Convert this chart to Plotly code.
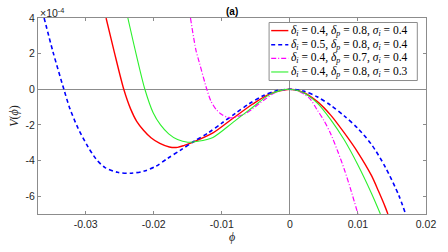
import plotly.graph_objects as go

# Values (V in units of 1e-4)
red_phi = [-0.0270, -0.0258, -0.0244, -0.0234, -0.0225, -0.0215, -0.0204, -0.0191, -0.0177, -0.0165,
           -0.0155, -0.0143, -0.0113, -0.0084, -0.0055, -0.0030, 0.0,
           0.002, 0.004, 0.006, 0.008, 0.010, 0.012, 0.013, 0.014, 0.0144]
red_V = [4.0, 2.1, 0.0, -1.1, -1.8, -2.3, -2.72, -3.04, -3.24, -3.26,
         -3.15, -2.98, -2.45, -1.64, -0.84, -0.27, 0.0,
         -0.17, -0.68, -1.45, -2.45, -3.55, -4.85, -5.7, -6.6, -7.0]

blue_phi = [-0.0361, -0.0348, -0.0332, -0.0323, -0.0311, -0.0297, -0.0285, -0.0272, -0.0253,
            -0.0233, -0.02137, -0.01967, -0.01796, -0.0160, -0.0140, -0.0120, -0.0100, -0.0080,
            -0.0060, -0.0040, -0.0020, 0.0,
            0.002, 0.004, 0.006, 0.008, 0.010, 0.012, 0.014, 0.016, 0.0170]
blue_V = [4.0, 2.1, 0.0, -1.1, -2.2, -3.2, -3.9, -4.38, -4.66,
          -4.71, -4.59, -4.32, -3.88, -3.4, -2.9, -2.45, -1.9, -1.35,
          -0.82, -0.38, -0.08, 0.0,
          -0.1, -0.42, -0.9, -1.5, -2.2, -3.1, -4.35, -5.95, -7.0]

mag_phi = [-0.0146, -0.0138, -0.0133, -0.0122, -0.0116, -0.0108, -0.0100, -0.0092, -0.0085,
           -0.0077, -0.0066, -0.0055, -0.0045, -0.0035, -0.0025, -0.0012, 0.0,
           0.001, 0.002, 0.003, 0.004, 0.005, 0.006, 0.007, 0.008, 0.009, 0.0100]
mag_V = [4.0, 2.2, 1.5, 0.0, -0.66, -1.15, -1.42, -1.56, -1.6,
         -1.53, -1.38, -1.1, -0.8, -0.52, -0.25, -0.05, 0.0,
         -0.06, -0.25, -0.55, -1.15, -1.75, -2.5, -3.45, -4.5, -5.7, -7.0]

green_phi = [-0.0238, -0.0226, -0.0213, -0.0201, -0.0190, -0.0178, -0.0165, -0.0150, -0.0135,
             -0.0113, -0.0084, -0.0055, -0.0030, -0.0012, 0.0,
             0.002, 0.004, 0.006, 0.008, 0.010, 0.012, 0.0133]
green_V = [4.0, 2.0, 0.0, -1.3, -2.0, -2.5, -2.82, -2.97, -2.92,
           -2.7, -1.87, -1.02, -0.3, -0.05, 0.0,
           -0.19, -0.76, -1.7, -2.85, -4.25, -5.85, -7.0]

names = [
    "<i>δ<sub>i</sub></i> = 0.4, <i>δ<sub>p</sub></i> = 0.8, <i>σ<sub>i</sub></i> = 0.4",
    "<i>δ<sub>i</sub></i> = 0.5, <i>δ<sub>p</sub></i> = 0.8, <i>σ<sub>i</sub></i> = 0.4",
    "<i>δ<sub>i</sub></i> = 0.4, <i>δ<sub>p</sub></i> = 0.7, <i>σ<sub>i</sub></i> = 0.4",
    "<i>δ<sub>i</sub></i> = 0.4, <i>δ<sub>p</sub></i> = 0.8, <i>σ<sub>i</sub></i> = 0.3",
]
colors = ["#ff0000", "#0000ff", "#ff00ff", "#2cf02c"]
widths = [1.4, 1.6, 1.2, 1.1]
dashes = ["solid", "4px,3px", "5px,2px,1px,2px", "solid"]

x_ticks = [-0.03, -0.02, -0.01, 0, 0.01, 0.02]
x_ticktext = ["-0.03", "-0.02", "-0.01", "0", "0.01", "0.02"]
y_ticks = [-6, -4, -2, 0, 2, 4]
y_ticktext = ["-6", "-4", "-2", "0", "2", "4"]

series = [(red_phi, red_V), (blue_phi, blue_V), (mag_phi, mag_V), (green_phi, green_V)]

fig = go.Figure()
for (xs, ys), nm, c, w, d in zip(series, names, colors, widths, dashes):
    fig.add_trace(go.Scatter(x=xs, y=ys, mode="lines", name=nm, showlegend=False,
                             line=dict(color=c, width=w, dash=d, shape="spline", smoothing=0.8)))

axis_common = dict(showline=True, linecolor="#8c8c8c", linewidth=1, mirror="ticks",
                   ticks="inside", ticklen=3, tickcolor="#8c8c8c", showgrid=False,
                   zeroline=True, zerolinecolor="#8c8c8c", zerolinewidth=1,
                   tickfont=dict(family="Liberation Sans, Arial", size=10.5, color="#262626"))

# Hand-drawn legend box (paper coordinates)
leg_x0, leg_x1, leg_y0, leg_y1 = 0.5956, 0.9776, 0.681, 0.977
row_y = [0.9357, 0.8633, 0.7937, 0.7246]
shapes = [dict(type="rect", xref="paper", yref="paper", x0=leg_x0, x1=leg_x1, y0=leg_y0, y1=leg_y1,
               line=dict(color="#8c8c8c", width=1), fillcolor="white", layer="above")]
annotations = []
for ry, nm, c, w, d in zip(row_y, names, colors, widths, dashes):
    shapes.append(dict(type="line", xref="paper", yref="paper", x0=0.601, x1=0.6452, y0=ry, y1=ry,
                       line=dict(color=c, width=w, dash=d), layer="above"))
    annotations.append(dict(text=nm, xref="paper", yref="paper", x=0.6480, y=ry, xanchor="left",
                            yanchor="middle", showarrow=False,
                            font=dict(family="Liberation Serif, Times New Roman", size=11.5, color="#000")))

annotations += [
    dict(text="<b>(a)</b>", xref="paper", yref="paper", x=0.5, y=1.0, xanchor="center",
         yanchor="bottom", showarrow=False, yshift=-1,
         font=dict(family="Liberation Sans, Arial", size=10, color="#000")),
    dict(text="×10<sup>-4</sup>", xref="paper", yref="paper", x=0.0, y=1.0, xanchor="left",
         yanchor="bottom", showarrow=False, yshift=-3,
         font=dict(family="Liberation Sans, Arial", size=10.5, color="#262626")),
]

fig.update_layout(
    width=448, height=252,
    margin=dict(l=38, r=21, t=14, b=31),
    paper_bgcolor="white", plot_bgcolor="white",
    showlegend=False,
    xaxis=dict(range=[-0.037, 0.02], tickvals=x_ticks, ticktext=x_ticktext,
               title=dict(text="<i>ϕ</i>", font=dict(family="Liberation Serif", size=12, color="#262626"),
                          standoff=2),
               **axis_common),
    yaxis=dict(range=[-7, 4], tickvals=y_ticks, ticktext=y_ticktext,
               title=dict(text="<i>V</i>(<i>ϕ</i>)", font=dict(family="Liberation Serif", size=12, color="#262626"),
                          standoff=4),
               **axis_common),
    shapes=shapes,
    annotations=annotations,
)

fig.write_html("out.html", config={"displayModeBar": False, "staticPlot": True},
               post_script="document.body.style.margin='0';")
